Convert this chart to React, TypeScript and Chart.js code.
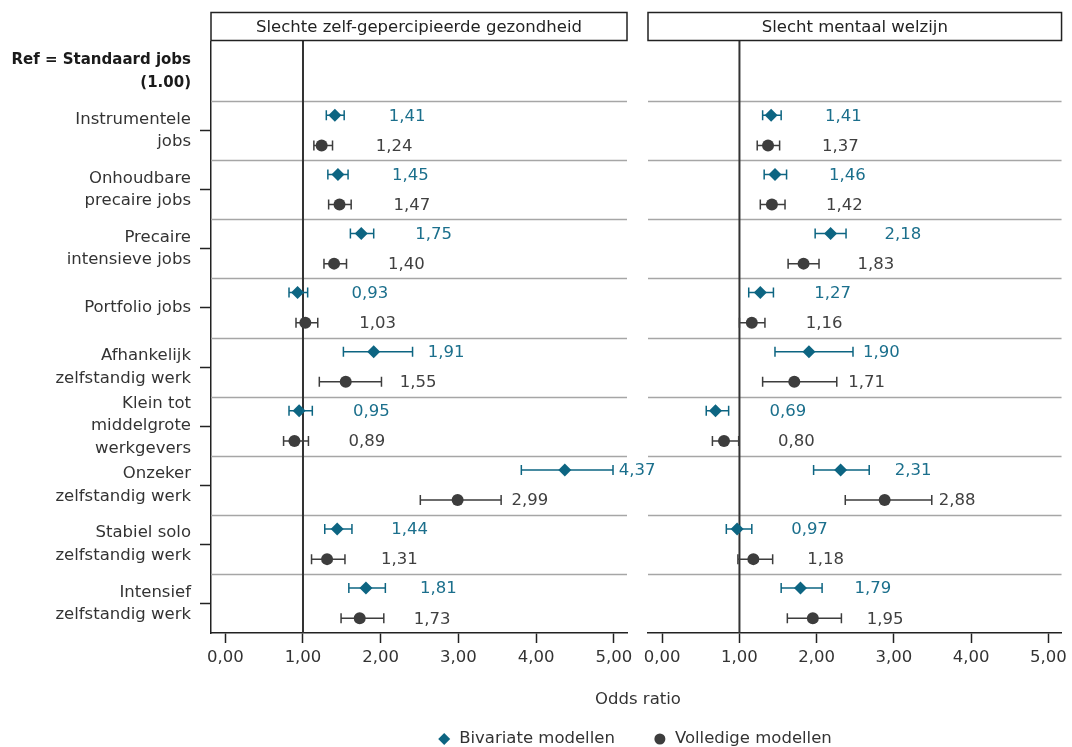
import React, { useEffect, useRef } from 'react';
import { Chart, registerables } from 'chart.js';

Chart.register(...registerables);

// ---------- DATA ----------
const categories: (string | string[])[] = [
  ['Ref = Standaard jobs', '(1.00)'],
  ['Instrumentele', 'jobs'],
  ['Onhoudbare', 'precaire jobs'],
  ['Precaire', 'intensieve jobs'],
  'Portfolio jobs',
  ['Afhankelijk', 'zelfstandig werk'],
  ['Klein tot', 'middelgrote', 'werkgevers'],
  ['Onzeker', 'zelfstandig werk'],
  ['Stabiel solo', 'zelfstandig werk'],
  ['Intensief', 'zelfstandig werk'],
];
const panelTitles = ['Slechte zelf-gepercipieerde gezondheid', 'Slecht mentaal welzijn'];
const seriesNames = ['Bivariate modellen', 'Volledige modellen'];
const xAxisTitle = 'Odds ratio';
const xTickValues = [0, 1, 2, 3, 4, 5];

// Panel 1: Slechte zelf-gepercipieerde gezondheid
const p1BivOR = [null, 1.41, 1.45, 1.75, 0.93, 1.91, 0.95, 4.37, 1.44, 1.81];
const p1BivLo = [null, 1.30, 1.32, 1.61, 0.82, 1.52, 0.82, 3.81, 1.28, 1.59];
const p1BivHi = [null, 1.53, 1.58, 1.91, 1.06, 2.41, 1.12, 4.99, 1.63, 2.06];
const p1FullOR = [null, 1.24, 1.47, 1.40, 1.03, 1.55, 0.89, 2.99, 1.31, 1.73];
const p1FullLo = [null, 1.14, 1.33, 1.27, 0.91, 1.21, 0.75, 2.51, 1.11, 1.49];
const p1FullHi = [null, 1.38, 1.62, 1.56, 1.19, 2.01, 1.07, 3.55, 1.54, 2.04];

// Panel 2: Slecht mentaal welzijn
const p2BivOR = [null, 1.41, 1.46, 2.18, 1.27, 1.90, 0.69, 2.31, 0.97, 1.79];
const p2BivLo = [null, 1.30, 1.32, 1.98, 1.12, 1.46, 0.57, 1.96, 0.83, 1.54];
const p2BivHi = [null, 1.54, 1.61, 2.38, 1.44, 2.47, 0.86, 2.68, 1.16, 2.07];
const p2FullOR = [null, 1.37, 1.42, 1.83, 1.16, 1.71, 0.80, 2.88, 1.18, 1.95];
const p2FullLo = [null, 1.23, 1.27, 1.63, 1.00, 1.30, 0.65, 2.37, 0.98, 1.62];
const p2FullHi = [null, 1.52, 1.59, 2.03, 1.33, 2.26, 0.99, 3.49, 1.43, 2.32];

// ---------- STYLE ----------
const FONT = "'DejaVu Sans', sans-serif";
const FS = 16.5;
const TEAL = '#0d6582';
const TEAL_TEXT = '#1b6f8c';
const GRAY = '#3d3d3d';
const GRAY_TEXT = '#404040';
const AXIS = '#222222';
const SEP = '#a6a6a6';
const W = 1072;
const H = 747;
const ROW_OFFSETS = [-0.26, 0.25];
const SERIES_COLORS = [TEAL, GRAY];
const SERIES_TEXT = [TEAL_TEXT, GRAY_TEXT];
const SERIES_STYLES = ['rectRot', 'circle'];
const LABEL_DX = 54;
const GAP_CENTER = 638;

const fmt = (v: number) => v.toFixed(2).replace('.', ',');

function buildData(or: (number | null)[], lo: (number | null)[], hi: (number | null)[], off: number) {
  const out: any[] = [];
  or.forEach((v, i) => {
    if (v === null) return;
    out.push({ x: v, y: i + off, lo: lo[i], hi: hi[i] });
  });
  return out;
}

const panelPlugin = (title: string, drawShared: boolean) => ({
  id: 'panelDecor',
  beforeDatasetsDraw(chart: any) {
    const { ctx, chartArea: a, scales } = chart;
    const xs = scales.x;
    const ys = scales.y;
    ctx.save();
    // row separators
    ctx.strokeStyle = SEP;
    ctx.lineWidth = 1.3;
    for (let i = 0; i < categories.length - 1; i++) {
      const y = Math.round(ys.getPixelForValue(i + 0.5)) + 0.5;
      ctx.beginPath();
      ctx.moveTo(a.left, y);
      ctx.lineTo(a.right, y);
      ctx.stroke();
    }
    // reference line at OR = 1
    const x1 = xs.getPixelForValue(1);
    ctx.strokeStyle = '#333333';
    ctx.lineWidth = 2;
    ctx.beginPath();
    ctx.moveTo(x1, a.top - 1);
    ctx.lineTo(x1, a.bottom);
    ctx.stroke();
    // error bars
    chart.data.datasets.forEach((ds: any, di: number) => {
      const meta = chart.getDatasetMeta(di);
      ctx.strokeStyle = SERIES_COLORS[di];
      ctx.lineWidth = 1.5;
      meta.data.forEach((el: any, j: number) => {
        const raw = ds.data[j];
        const xl = xs.getPixelForValue(raw.lo);
        const xh = xs.getPixelForValue(raw.hi);
        const y = el.y;
        ctx.beginPath();
        ctx.moveTo(xl, y);
        ctx.lineTo(xh, y);
        ctx.moveTo(xl, y - 5);
        ctx.lineTo(xl, y + 5);
        ctx.moveTo(xh, y - 5);
        ctx.lineTo(xh, y + 5);
        ctx.stroke();
      });
    });
    ctx.restore();
  },
  afterDatasetsDraw(chart: any) {
    const { ctx, scales } = chart;
    const xs = scales.x;
    ctx.save();
    ctx.font = `${FS}px ${FONT}`;
    ctx.textAlign = 'left';
    ctx.textBaseline = 'middle';
    chart.data.datasets.forEach((ds: any, di: number) => {
      const meta = chart.getDatasetMeta(di);
      ctx.fillStyle = SERIES_TEXT[di];
      meta.data.forEach((el: any, j: number) => {
        const raw = ds.data[j];
        ctx.fillText(fmt(raw.x), xs.getPixelForValue(raw.x) + LABEL_DX, el.y + 1);
      });
    });
    ctx.restore();
  },
  afterDraw(chart: any) {
    const { ctx, chartArea: a } = chart;
    ctx.save();
    // header box
    ctx.strokeStyle = AXIS;
    ctx.lineWidth = 1.5;
    ctx.fillStyle = '#ffffff';
    const top = 12.5;
    const bottom = a.top - 1.5;
    ctx.fillRect(a.left, top, a.right - a.left, bottom - top);
    ctx.strokeRect(a.left, top, a.right - a.left, bottom - top);
    ctx.fillStyle = AXIS;
    ctx.font = `${FS}px ${FONT}`;
    ctx.textAlign = 'center';
    ctx.textBaseline = 'middle';
    ctx.fillText(title, (a.left + a.right) / 2, (top + bottom) / 2 + 1);

    if (drawShared) {
      // axis title
      ctx.fillStyle = '#333333';
      ctx.fillText(xAxisTitle, GAP_CENTER, 700);
      // legend
      ctx.textAlign = 'left';
      const gapMarker = 15;
      const gapItems = 45;
      const widths = seriesNames.map((n) => ctx.measureText(n).width);
      const total = widths[0] + widths[1] + 2 * gapMarker + gapItems;
      let x = GAP_CENTER - total / 2;
      const ly = 739;
      seriesNames.forEach((name, i) => {
        ctx.fillStyle = SERIES_COLORS[i];
        const mx = x;
        ctx.beginPath();
        if (SERIES_STYLES[i] === 'rectRot') {
          const r = 6;
          ctx.moveTo(mx, ly - r);
          ctx.lineTo(mx + r, ly);
          ctx.lineTo(mx, ly + r);
          ctx.lineTo(mx - r, ly);
          ctx.closePath();
        } else {
          ctx.arc(mx, ly, 5.5, 0, Math.PI * 2);
        }
        ctx.fill();
        ctx.fillStyle = '#333333';
        ctx.fillText(name, x + gapMarker, ly);
        x += gapMarker + widths[i] + gapItems;
      });
    }
    ctx.restore();
  },
});

function makeConfig(
  title: string,
  bivOR: any[], bivLo: any[], bivHi: any[],
  fullOR: any[], fullLo: any[], fullHi: any[],
  isLeft: boolean,
): any {
  return {
    type: 'scatter',
    data: {
      datasets: [
        {
          label: seriesNames[0],
          data: buildData(bivOR, bivLo, bivHi, ROW_OFFSETS[0]),
          pointStyle: SERIES_STYLES[0],
          pointRadius: 6.5,
          backgroundColor: SERIES_COLORS[0],
          borderColor: SERIES_COLORS[0],
          borderWidth: 0,
        },
        {
          label: seriesNames[1],
          data: buildData(fullOR, fullLo, fullHi, ROW_OFFSETS[1]),
          pointStyle: SERIES_STYLES[1],
          pointRadius: 6,
          backgroundColor: SERIES_COLORS[1],
          borderColor: SERIES_COLORS[1],
          borderWidth: 0,
        },
      ],
    },
    options: {
      responsive: false,
      animation: false,
      events: [],
      layout: {
        padding: isLeft
          ? { top: 42, bottom: H - 633 - 40, left: 0, right: W - 627 }
          : { top: 42, bottom: H - 633 - 40, left: 648, right: W - 1065 },
      },
      plugins: {
        legend: { display: false },
        tooltip: { enabled: false },
        title: { display: false },
      },
      scales: {
        x: {
          type: 'linear',
          min: -0.184,
          max: 5.17,
          afterBuildTicks: (s: any) => {
            s.ticks = xTickValues.map((v) => ({ value: v }));
          },
          afterFit: (s: any) => {
            s.height = 40;
          },
          ticks: {
            callback: (v: any) => fmt(Number(v)),
            color: '#333333',
            font: { family: FONT, size: FS },
            padding: 5,
            maxRotation: 0,
            autoSkip: false,
          },
          grid: {
            drawOnChartArea: false,
            drawTicks: true,
            tickLength: 10,
            tickColor: AXIS,
            tickWidth: 1.5,
          },
          border: { display: true, color: AXIS, width: 1.5 },
        },
        y: {
          type: 'linear',
          display: isLeft,
          min: -0.5,
          max: 9.5,
          reverse: true,
          afterBuildTicks: (s: any) => {
            s.ticks = categories.map((_, i) => ({ value: i }));
          },
          afterFit: (s: any) => {
            s.width = isLeft ? 211 : 0;
          },
          ticks: {
            callback: (v: any) => categories[Math.round(Number(v))],
            color: (ctx: any) => (ctx.index === 0 ? '#1a1a1a' : '#333333'),
            font: (ctx: any) =>
              ctx.index === 0
                ? { family: FONT, size: 15, weight: 'bold', lineHeight: 1.56 }
                : { family: FONT, size: FS, lineHeight: 1.36 },
            padding: 9,
            autoSkip: false,
          },
          grid: {
            drawOnChartArea: false,
            drawTicks: true,
            tickLength: 11,
            tickColor: (ctx: any) => (ctx.index === 0 ? 'rgba(0,0,0,0)' : AXIS),
            tickWidth: 1.5,
          },
          border: { display: true, color: AXIS, width: 1.5 },
        },
      },
    },
    plugins: [panelPlugin(title, isLeft)],
  };
}

export default function App() {
  const leftRef = useRef<HTMLCanvasElement>(null);
  const rightRef = useRef<HTMLCanvasElement>(null);

  useEffect(() => {
    if (!leftRef.current || !rightRef.current) return;
    const c1 = new Chart(
      leftRef.current,
      makeConfig(panelTitles[0], p1BivOR, p1BivLo, p1BivHi, p1FullOR, p1FullLo, p1FullHi, true),
    );
    const c2 = new Chart(
      rightRef.current,
      makeConfig(panelTitles[1], p2BivOR, p2BivLo, p2BivHi, p2FullOR, p2FullLo, p2FullHi, false),
    );
    return () => {
      c1.destroy();
      c2.destroy();
    };
  }, []);

  const canvasStyle: React.CSSProperties = {
    position: 'absolute',
    left: 0,
    top: 0,
    width: W,
    height: H,
    display: 'block',
  };

  return (
    <div style={{ position: 'fixed', left: 0, top: 0, width: W, height: H, background: '#ffffff', overflow: 'hidden' }}>
      <canvas ref={leftRef} width={W} height={H} style={canvasStyle} />
      <canvas ref={rightRef} width={W} height={H} style={canvasStyle} />
    </div>
  );
}
